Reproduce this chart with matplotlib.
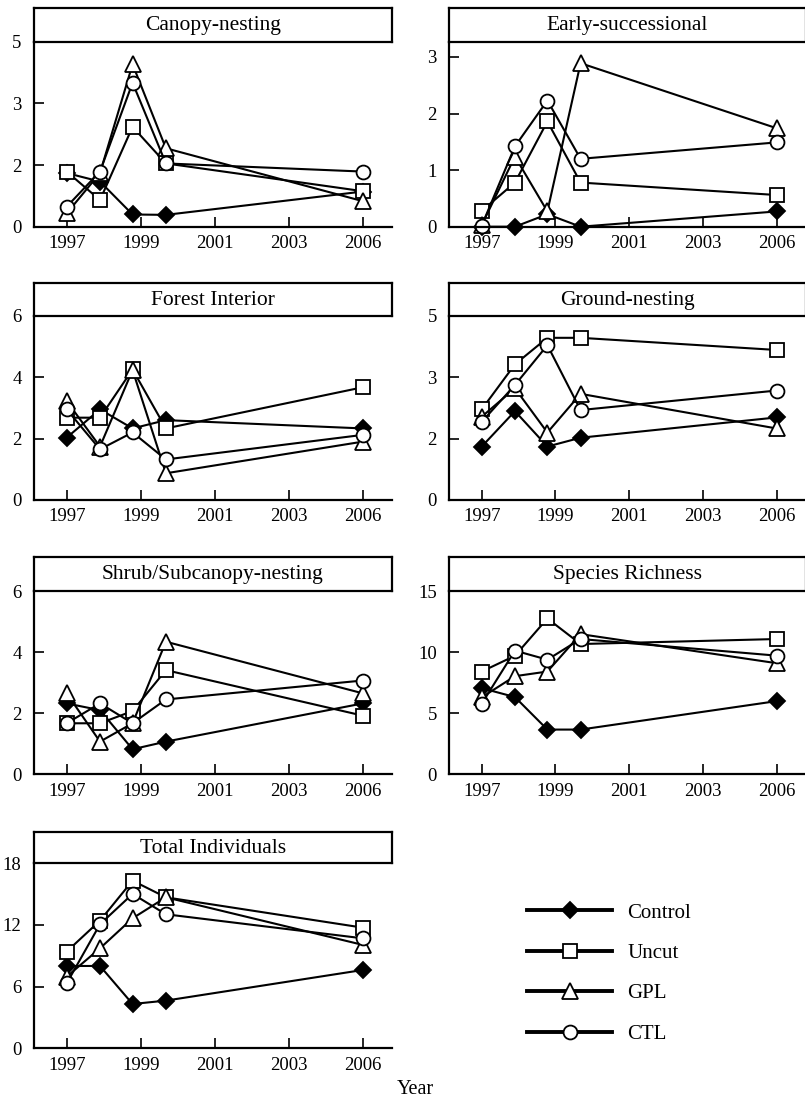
import matplotlib
matplotlib.use('Agg')
import matplotlib.pyplot as plt
from matplotlib.lines import Line2D

plt.rcParams['font.family'] = ['Liberation Serif', 'DejaVu Serif']

# x positions of the sampling points on the (uneven) year axis
x_pos = [0, 0.45, 0.89, 1.34, 4.0]
tick_pos = [0, 1, 2, 3, 4]
tick_lab = ['1997', '1999', '2001', '2003', '2006']

treatments = ['Control', 'Uncut', 'GPL', 'CTL']

# panel titles
titles = ['Canopy-nesting', 'Early-successional', 'Forest Interior', 'Ground-nesting',
          'Shrub/Subcanopy-nesting', 'Species Richness', 'Total Individuals']

# values per panel, order: Control, Uncut, GPL, CTL
canopy_control = [1.45, 1.22, 0.33, 0.32, 0.95]
canopy_uncut = [1.49, 0.72, 2.70, 1.71, 0.96]
canopy_gpl = [0.36, 1.45, 4.39, 2.12, 0.69]
canopy_ctl = [0.54, 1.49, 3.89, 1.71, 1.49]

early_control = [0.0, 0.0, 0.22, 0.0, 0.27]
early_uncut = [0.28, 0.78, 1.86, 0.78, 0.56]
early_gpl = [0.03, 1.24, 0.27, 2.89, 1.74]
early_ctl = [0.02, 1.42, 2.23, 1.20, 1.49]

forest_control = [2.03, 2.95, 2.33, 2.60, 2.33]
forest_uncut = [2.68, 2.68, 4.25, 2.33, 3.67]
forest_gpl = [3.22, 1.74, 4.23, 0.87, 1.90]
forest_ctl = [2.95, 1.65, 2.20, 1.32, 2.12]

ground_control = [1.45, 2.41, 1.45, 1.69, 2.24]
ground_uncut = [2.46, 3.68, 4.40, 4.40, 4.07]
ground_gpl = [2.26, 3.03, 1.83, 2.88, 1.94]
ground_ctl = [2.12, 3.12, 4.20, 2.44, 2.97]

shrub_control = [2.32, 2.10, 0.82, 1.07, 2.32]
shrub_uncut = [1.67, 1.67, 2.07, 3.41, 1.92]
shrub_gpl = [2.65, 1.07, 1.67, 4.34, 2.65]
shrub_ctl = [1.67, 2.32, 1.67, 2.45, 3.07]

rich_control = [7.05, 6.32, 3.66, 3.66, 5.99]
rich_uncut = [8.41, 9.70, 12.75, 10.66, 11.07]
rich_gpl = [6.30, 8.03, 8.41, 11.47, 9.09]
rich_ctl = [5.78, 10.12, 9.38, 11.07, 9.71]

total_control = [8.01, 8.01, 4.31, 4.64, 7.62]
total_uncut = [9.41, 12.42, 16.31, 14.69, 11.74]
total_gpl = [6.97, 9.73, 12.65, 14.69, 10.06]
total_ctl = [6.32, 12.07, 15.02, 13.04, 10.70]

panel_data = [
    [canopy_control, canopy_uncut, canopy_gpl, canopy_ctl],
    [early_control, early_uncut, early_gpl, early_ctl],
    [forest_control, forest_uncut, forest_gpl, forest_ctl],
    [ground_control, ground_uncut, ground_gpl, ground_ctl],
    [shrub_control, shrub_uncut, shrub_gpl, shrub_ctl],
    [rich_control, rich_uncut, rich_gpl, rich_ctl],
    [total_control, total_uncut, total_gpl, total_ctl],
]

# y axis: upper limit, tick positions, tick labels
y_top = [5, 3.27, 6, 5, 6, 15, 18]
y_ticks = [[0, 5/3, 10/3, 5], [0, 1, 2, 3], [0, 2, 4, 6], [0, 5/3, 10/3, 5],
           [0, 2, 4, 6], [0, 5, 10, 15], [0, 6, 12, 18]]
y_labels = [['0', '2', '3', '5'], ['0', '1', '2', '3'], ['0', '2', '4', '6'],
            ['0', '2', '3', '5'], ['0', '2', '4', '6'], ['0', '5', '10', '15'],
            ['0', '6', '12', '18']]

styles = [dict(marker='D', mfc='black', mec='black', ms=8.5),
          dict(marker='s', mfc='white', mec='black', ms=10.5),
          dict(marker='^', mfc='white', mec='black', ms=11),
          dict(marker='o', mfc='white', mec='black', ms=10)]

W, H = 805, 1111
fig = plt.figure(figsize=(W/100, H/100), dpi=100)

cols = [(34.1, 391.7), (449.3, 805.5)]
rows = [(8.3, 41.7, 226.7), (283.3, 315.7, 500), (556.7, 591, 774.3), (831.7, 863.3, 1048.3)]

for i in range(7):
    c = i % 2
    r = i // 2
    x0, x1 = cols[c]
    t0, t1, b = rows[r]
    ax = fig.add_axes([x0/W, 1 - b/H, (x1-x0)/W, (b-t1)/H])
    tax = fig.add_axes([x0/W, 1 - t1/H, (x1-x0)/W, (t1-t0)/H])

    for vals, st in zip(panel_data[i], styles):
        ax.plot(x_pos, vals, color='black', lw=1.5, mew=1.3, clip_on=False, **st)

    ax.set_xlim(-0.44, 4.39)
    ax.set_ylim(0, y_top[i])
    ax.set_xticks(tick_pos)
    ax.set_xticklabels(tick_lab)
    ax.set_yticks(y_ticks[i])
    ax.set_yticklabels(y_labels[i])
    ax.tick_params(direction='in', length=7, width=1.2, labelsize=13.5, pad=6)
    ax.tick_params(axis='y', pad=9)
    ax.spines['top'].set_visible(False)
    ax.spines['right'].set_visible(False)
    for s in ['left', 'bottom']:
        ax.spines[s].set_linewidth(1.6)

    tax.set_xticks([])
    tax.set_yticks([])
    for s in tax.spines.values():
        s.set_linewidth(1.6)
    tax.text(0.5, 0.48, titles[i], ha='center', va='center', fontsize=15.5,
             transform=tax.transAxes)

handles = [Line2D([], [], color='black', lw=2.8, mew=1.3, **st) for st in styles]
fig.legend(handles, treatments, loc='upper left', bbox_to_anchor=(527/W, 1 - 903/H),
           frameon=False, fontsize=15, handlelength=4.1, handletextpad=0.7,
           labelspacing=1.0, borderpad=0, borderaxespad=0)

fig.text(415/W, 1 - 1090/H, 'Year', ha='center', va='center', fontsize=14.5)

fig.savefig('out.png', dpi=100)
